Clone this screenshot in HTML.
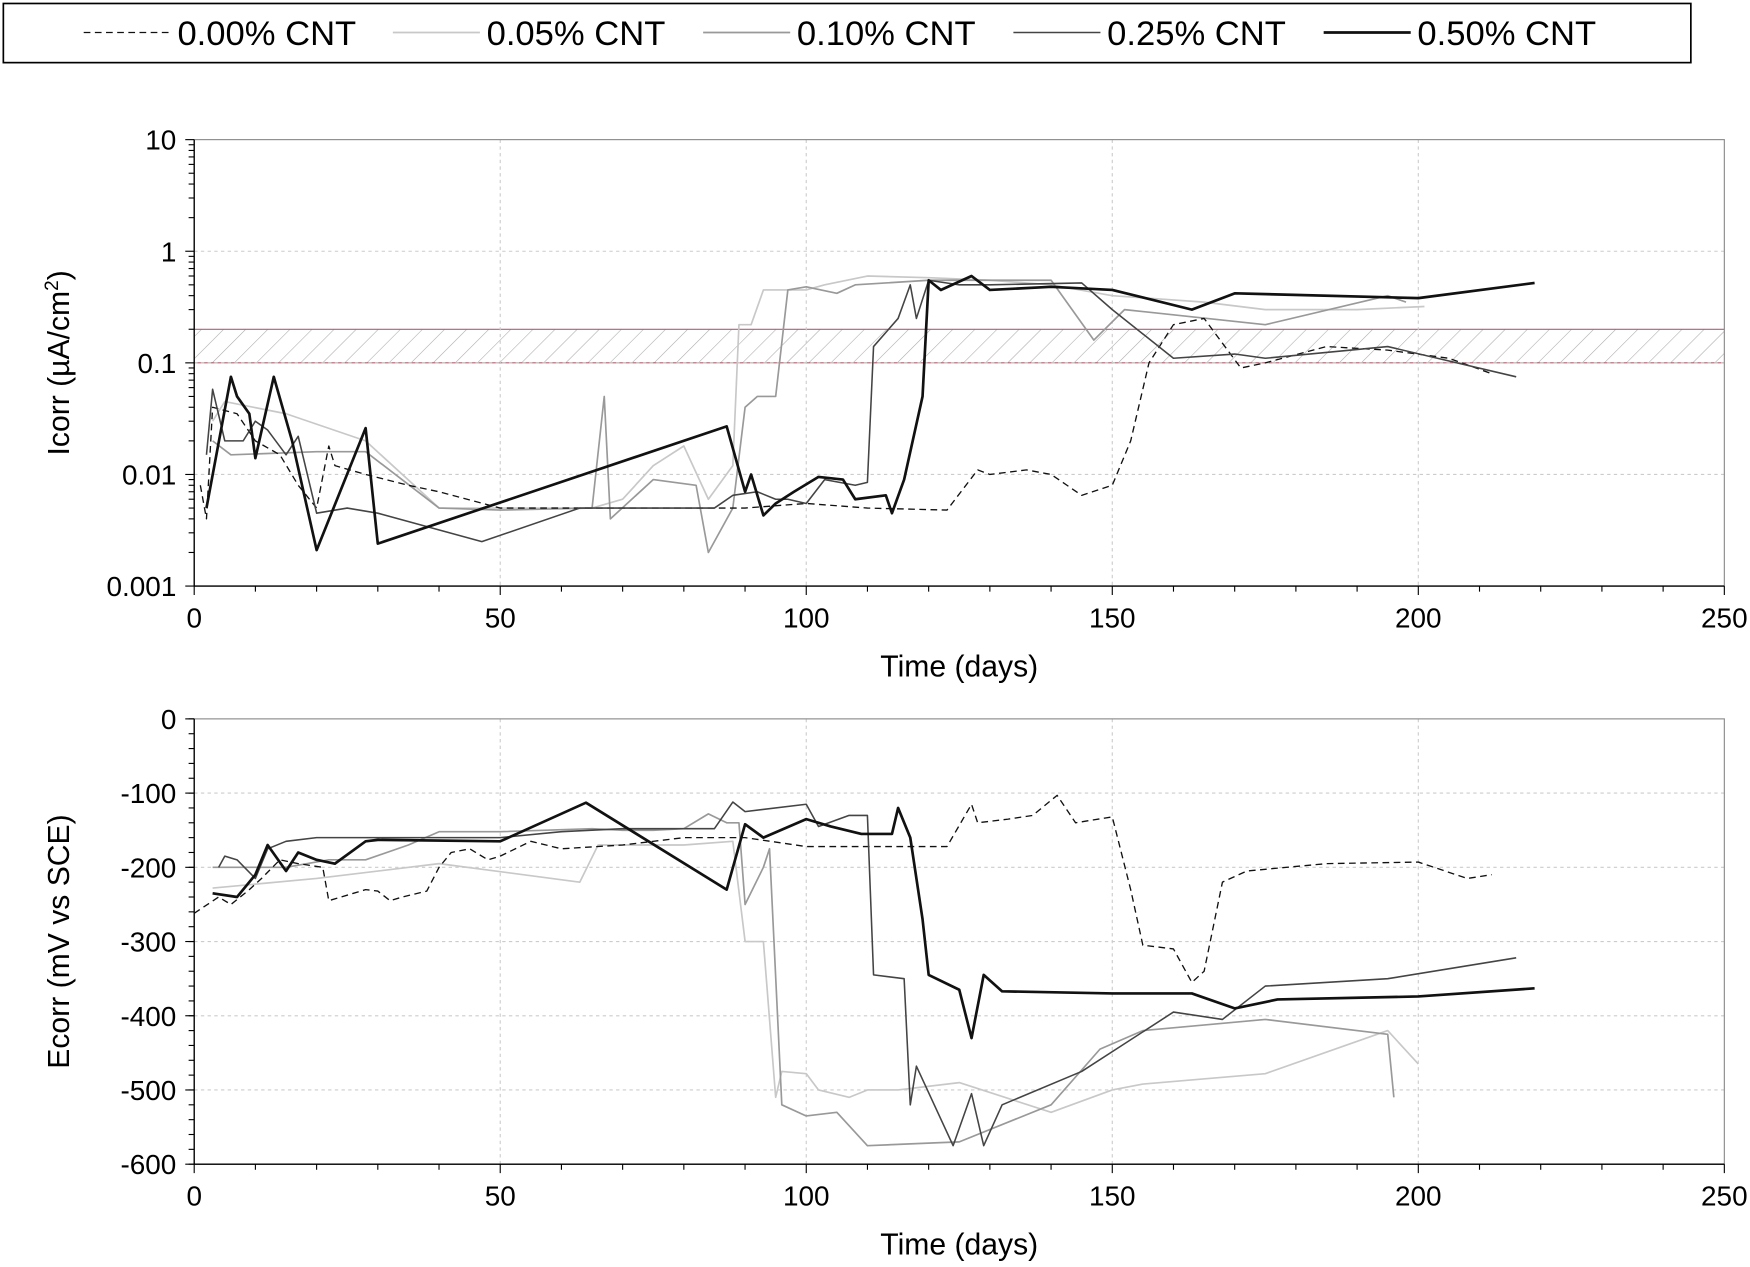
<!DOCTYPE html>
<html><head><meta charset="utf-8"><style>
html,body{margin:0;padding:0;background:#fff;}
svg{display:block;font-family:"Liberation Sans",Arial,sans-serif;}
</style></head><body>
<svg id="chart" width="1750" height="1267" viewBox="0 0 1568 1135" xmlns="http://www.w3.org/2000/svg">
<defs>
<pattern id="hatch" patternUnits="userSpaceOnUse" width="14" height="14" patternTransform="rotate(45)">
<line x1="0" y1="0" x2="0" y2="14" stroke="#aaa" stroke-width="1"/>
</pattern>
</defs>
<g id="legend">
<rect x="3" y="3" width="1512" height="53" fill="#fff" stroke="#000" stroke-width="1.5"/>
</g>
<g id="topchart"></g>
<g id="botchart"></g>
</svg>
<script>
const seriesNames = ['0.00% CNT','0.05% CNT','0.10% CNT','0.25% CNT','0.50% CNT'];
const styles = [
 {c:'#111',w:1.2,d:'6,4'},{c:'#c8c8c8',w:1.5,d:''},{c:'#999',w:1.5,d:''},{c:'#444',w:1.4,d:''},{c:'#111',w:2.4,d:''}];
const xTicks = [0,50,100,150,200,250];
const icorrTicks = [0.001,0.01,0.1,1,10];
const icorrTickLabels = ['0.001','0.01','0.1','1','10'];
const ecorrTicks = [-600,-500,-400,-300,-200,-100,0];
const bandLow = 0.1, bandHigh = 0.2;

const icorr00 = [[1,0.008],[2,0.004],[3,0.04],[7,0.035],[10,0.02],[14,0.015],[17,0.008],[20,0.005],[22,0.018],[23,0.012],[28,0.01],[35,0.008],[40,0.007],[50,0.005],[60,0.005],[70,0.005],[80,0.005],[90,0.005],[100,0.0055],[110,0.005],[123,0.0048],[128,0.011],[130,0.01],[136,0.011],[140,0.01],[145,0.0065],[150,0.008],[153,0.02],[156,0.1],[160,0.22],[165,0.25],[168,0.15],[171,0.09],[175,0.1],[185,0.14],[195,0.13],[205,0.11],[212,0.08]];
const icorr05 = [[3,0.03],[5,0.045],[15,0.035],[28,0.02],[40,0.005],[50,0.005],[65,0.005],[70,0.006],[75,0.012],[80,0.018],[84,0.006],[88,0.012],[89,0.22],[91,0.22],[93,0.45],[96,0.45],[100,0.45],[103,0.5],[110,0.6],[120,0.58],[130,0.55],[140,0.5],[150,0.4],[165,0.35],[175,0.3],[190,0.3],[201,0.32]];
const icorr10 = [[3,0.02],[6,0.015],[20,0.016],[28,0.016],[40,0.005],[50,0.0048],[65,0.005],[67,0.05],[68,0.004],[75,0.009],[82,0.008],[84,0.002],[88,0.005],[90,0.04],[92,0.05],[95,0.05],[97,0.45],[100,0.48],[105,0.42],[108,0.5],[120,0.55],[130,0.55],[140,0.55],[147,0.16],[152,0.3],[175,0.22],[195,0.4],[198,0.35]];
const icorr25 = [[2,0.015],[3,0.058],[5,0.02],[8,0.02],[10,0.03],[12,0.025],[15,0.015],[17,0.022],[20,0.0045],[25,0.005],[30,0.0045],[47,0.0025],[63,0.005],[85,0.005],[88,0.0065],[92,0.007],[95,0.006],[97,0.006],[100,0.0055],[103,0.009],[108,0.008],[110,0.0085],[111,0.14],[115,0.25],[117,0.5],[118,0.25],[120,0.55],[125,0.5],[130,0.5],[145,0.52],[150,0.3],[160,0.11],[170,0.12],[175,0.11],[195,0.14],[216,0.075]];
const icorr50 = [[2,0.005],[6,0.075],[7,0.05],[9,0.035],[10,0.014],[13,0.075],[16,0.02],[20,0.0021],[28,0.026],[30,0.0024],[87,0.027],[90,0.007],[91,0.01],[93,0.0043],[95,0.0055],[98,0.007],[102,0.0095],[106,0.009],[108,0.006],[113,0.0065],[114,0.0045],[116,0.009],[119,0.05],[120,0.55],[122,0.45],[127,0.6],[130,0.45],[140,0.48],[150,0.45],[163,0.3],[170,0.42],[200,0.38],[219,0.52]];

const ecorr00 = [[0,-262],[4,-240],[6,-250],[9,-230],[11,-215],[14,-190],[17,-195],[21,-200],[22,-245],[24,-240],[26,-235],[28,-230],[30,-232],[32,-245],[34,-240],[38,-232],[40,-200],[42,-180],[45,-175],[48,-190],[50,-185],[55,-165],[60,-175],[70,-170],[80,-160],[90,-160],[100,-172],[110,-172],[123,-172],[127,-115],[128,-140],[133,-135],[137,-130],[141,-103],[144,-140],[150,-132],[153,-230],[155,-305],[160,-310],[163,-355],[165,-340],[168,-220],[172,-205],[185,-195],[200,-193],[208,-215],[212,-210]];
const ecorr05 = [[3,-228],[20,-215],[40,-195],[63,-220],[66,-170],[80,-170],[88,-165],[90,-300],[93,-300],[95,-510],[96,-475],[100,-478],[102,-500],[107,-510],[110,-500],[115,-500],[125,-490],[140,-530],[150,-500],[155,-492],[175,-478],[195,-420],[200,-465]];
const ecorr10 = [[3,-200],[15,-200],[22,-190],[28,-190],[35,-170],[40,-152],[50,-152],[65,-148],[70,-150],[75,-150],[80,-148],[84,-128],[87,-140],[89,-140],[90,-250],[93,-200],[94,-175],[96,-520],[100,-535],[105,-530],[110,-575],[125,-570],[140,-520],[148,-445],[155,-420],[175,-405],[195,-425],[196,-510]];
const ecorr25 = [[4,-200],[5,-185],[7,-190],[10,-215],[12,-175],[15,-165],[20,-160],[28,-160],[40,-160],[50,-160],[60,-152],[70,-148],[85,-148],[88,-112],[90,-125],[100,-115],[102,-145],[107,-130],[110,-130],[111,-345],[116,-350],[117,-520],[118,-468],[124,-575],[127,-505],[129,-575],[132,-520],[145,-475],[160,-395],[168,-405],[175,-360],[195,-350],[216,-322]];
const ecorr50 = [[3,-235],[7,-240],[10,-210],[12,-170],[15,-205],[17,-180],[20,-190],[23,-195],[28,-165],[30,-163],[50,-165],[64,-113],[87,-230],[90,-142],[93,-160],[100,-135],[104,-145],[109,-155],[114,-155],[115,-120],[117,-160],[119,-270],[120,-345],[125,-365],[127,-430],[129,-345],[132,-367],[150,-370],[163,-370],[170,-390],[177,-378],[200,-374],[219,-363]];

const NS='http://www.w3.org/2000/svg';
function mk(tag,attrs,parent,text){const e=document.createElementNS(NS,tag);for(const k in attrs)e.setAttribute(k,attrs[k]);if(text!==undefined)e.textContent=text;parent.appendChild(e);return e;}
const L=174,R=1545;
const xs=d=>L+(d-0)/250*(R-L);
const T1=125,B1=525;
const yI=v=>B1-(Math.log10(v)+3)/4*(B1-T1);
const T2=644,B2=1043;
const yE=v=>B2-(v+600)/600*(B2-T2);

const legG=document.getElementById('legend');
const legX=[75,352,630,908,1186];
seriesNames.forEach((n,i)=>{
  const g=mk('g',{},legG);
  
  
  mk('line',{x1:legX[i],y1:29,x2:legX[i]+78,y2:29,stroke:styles[i].c,'stroke-width':styles[i].w,'stroke-dasharray':styles[i].d},g);
  mk('text',{x:legX[i]+84,y:40,'font-size':31,fill:'#000'},g,n);
});

function axes(g,T,B,yfn,yticks,ylabels,minor,ytitle){
  xTicks.slice(1,-1).forEach(t=>mk('line',{x1:xs(t),y1:T,x2:xs(t),y2:B,stroke:'#ccc','stroke-dasharray':'3,3'},g));
  yticks.slice(1,-1).forEach(t=>mk('line',{x1:L,y1:yfn(t),x2:R,y2:yfn(t),stroke:'#ccc','stroke-dasharray':'3,3'},g));
  const fr=mk('rect',{x:L,y:T,width:R-L,height:B-T,fill:'none',stroke:'#888','stroke-width':1},g);
  
  
  mk('line',{x1:L,y1:T,x2:L,y2:B,stroke:'#000','stroke-width':1.2},g);
  mk('line',{x1:L,y1:B,x2:R,y2:B,stroke:'#000','stroke-width':1.2},g);
  for(let d=0;d<=250;d+=10){const big=d%50===0;mk('line',{x1:xs(d),y1:B,x2:xs(d),y2:B+(big?8:5),stroke:'#000'},g);}
  xTicks.forEach(t=>mk('text',{x:xs(t),y:B+37,'font-size':25,'text-anchor':'middle'},g,String(t)));
  yticks.forEach((t,i)=>{mk('line',{x1:L-8,y1:yfn(t),x2:L,y2:yfn(t),stroke:'#000'},g);
    mk('text',{x:L-16,y:yfn(t)+9,'font-size':25,'text-anchor':'end'},g,ylabels[i]);});
  minor.forEach(v=>mk('line',{x1:L-5,y1:yfn(v),x2:L,y2:yfn(v),stroke:'#000'},g));
  const xt=mk('text',{x:(L+R)/2,y:B+81,'font-size':27,'text-anchor':'middle'},g,'Time (days)');
  
  
  const yt=mk('text',{x:0,y:0,'font-size':27,'text-anchor':'middle',transform:`translate(62,${(T+B)/2}) rotate(-90)`},g,ytitle);
  
  
  return yt;
}

const topG=document.getElementById('topchart');


const minorI=[];[0.001,0.01,0.1,1].forEach(b=>{for(let k=2;k<10;k++)minorI.push(b*k);});
const band=mk('rect',{x:L,y:yI(bandHigh),width:R-L,height:yI(bandLow)-yI(bandHigh),fill:'url(#hatch)'},topG);


mk('line',{x1:L,y1:yI(bandHigh),x2:R,y2:yI(bandHigh),stroke:'#b06070'},topG);
mk('line',{x1:L,y1:yI(bandLow),x2:R,y2:yI(bandLow),stroke:'#b06070'},topG);
const yt1=axes(topG,T1,B1,yI,icorrTicks,icorrTickLabels,minorI,'');
yt1.textContent='';
mk('tspan',{},yt1,'Icorr (\u00b5A/cm');
mk('tspan',{dy:-10,'font-size':17},yt1,'2');
mk('tspan',{dy:10},yt1,')');

const botG=document.getElementById('botchart');


const minorE=[];for(let v=-600;v<=0;v+=20)minorE.push(v);
axes(botG,T2,B2,yE,ecorrTicks,ecorrTicks.map(String),minorE,'Ecorr (mV vs SCE)');

function drawSeries(g,data,yfn,i,prefix){
  const p=mk('polyline',{points:data.map(d=>xs(d[0]).toFixed(1)+','+yfn(d[1]).toFixed(1)).join(' '),fill:'none',stroke:styles[i].c,'stroke-width':styles[i].w,'stroke-dasharray':styles[i].d,'stroke-linejoin':'round'},g);
  
  
}
[icorr05,icorr10,icorr00,icorr25,icorr50].forEach((d,k)=>drawSeries(topG,d,yI,[1,2,0,3,4][k],'icorr'));
[ecorr05,ecorr10,ecorr00,ecorr25,ecorr50].forEach((d,k)=>drawSeries(botG,d,yE,[1,2,0,3,4][k],'ecorr'));
</script>
</body></html>
